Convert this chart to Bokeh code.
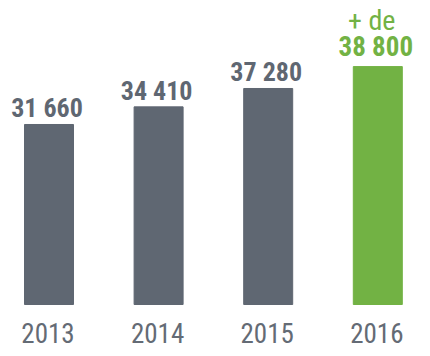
from bokeh.plotting import figure
from bokeh.models import Range1d, ColumnDataSource
from bokeh.core.properties import value
from bokeh.embed import file_html
from bokeh.resources import INLINE

years = ["2013", "2014", "2015", "2016"]
bar_values = [31660, 34410, 37280, 40700]
labels = ["31 660", "34 410", "37 280", "38 800"]
prefix_2016 = "+ de"
colors = ["#5f6772", "#5f6772", "#5f6772", "#72b244"]

W, H = 422, 348
k = 0.006406           # pixels per unit
base = 3560            # value at bar baseline
base_px_from_top = 304
x0_px, step_px = 48.5, 109.6

p = figure(width=W, height=H, output_backend="svg", toolbar_location=None,
           min_border=0, outline_line_color=None, background_fill_color="white")
p.x_range = Range1d(-x0_px / step_px, -x0_px / step_px + W / step_px)
p.y_range = Range1d(base - (H - base_px_from_top) / k, base + base_px_from_top / k)
p.xaxis.visible = False
p.yaxis.visible = False
p.grid.visible = False

xs = list(range(len(years)))
src = ColumnDataSource(dict(x=xs, top=bar_values, color=colors, year=years))
p.vbar(x="x", top="top", bottom=base, width=49 / step_px, color="color", source=src)

font = value("Roboto Condensed")
p.text(x="x", y=base, text="year", source=src, text_align="center",
       text_baseline="alphabetic", y_offset=28, x_offset=-1, text_font=font,
       text_font_size="27px", text_color="#646b75")

gsrc = ColumnDataSource(dict(x=xs[:3], y=bar_values[:3], t=labels[:3]))
p.text(x="x", y="y", text="t", source=gsrc, text_align="center",
       text_baseline="alphabetic", y_offset=-16, x_offset=-2, text_font=font,
       text_font_size="26px", text_font_style="bold", text_color="#5f6772")

p.text(x=[xs[3]], y=[bar_values[3]], text=[labels[3]], text_align="center",
       text_baseline="alphabetic", y_offset=-20, x_offset=-2, text_font=font,
       text_font_size="27px", text_font_style="bold", text_color="#72b244")
p.text(x=[xs[3]], y=[bar_values[3]], text=[prefix_2016], text_align="center",
       text_baseline="alphabetic", y_offset=-46, x_offset=-6, text_font=font,
       text_font_size="28px", text_color="#72b244")

open("out.html", "w").write(file_html(p, INLINE))
